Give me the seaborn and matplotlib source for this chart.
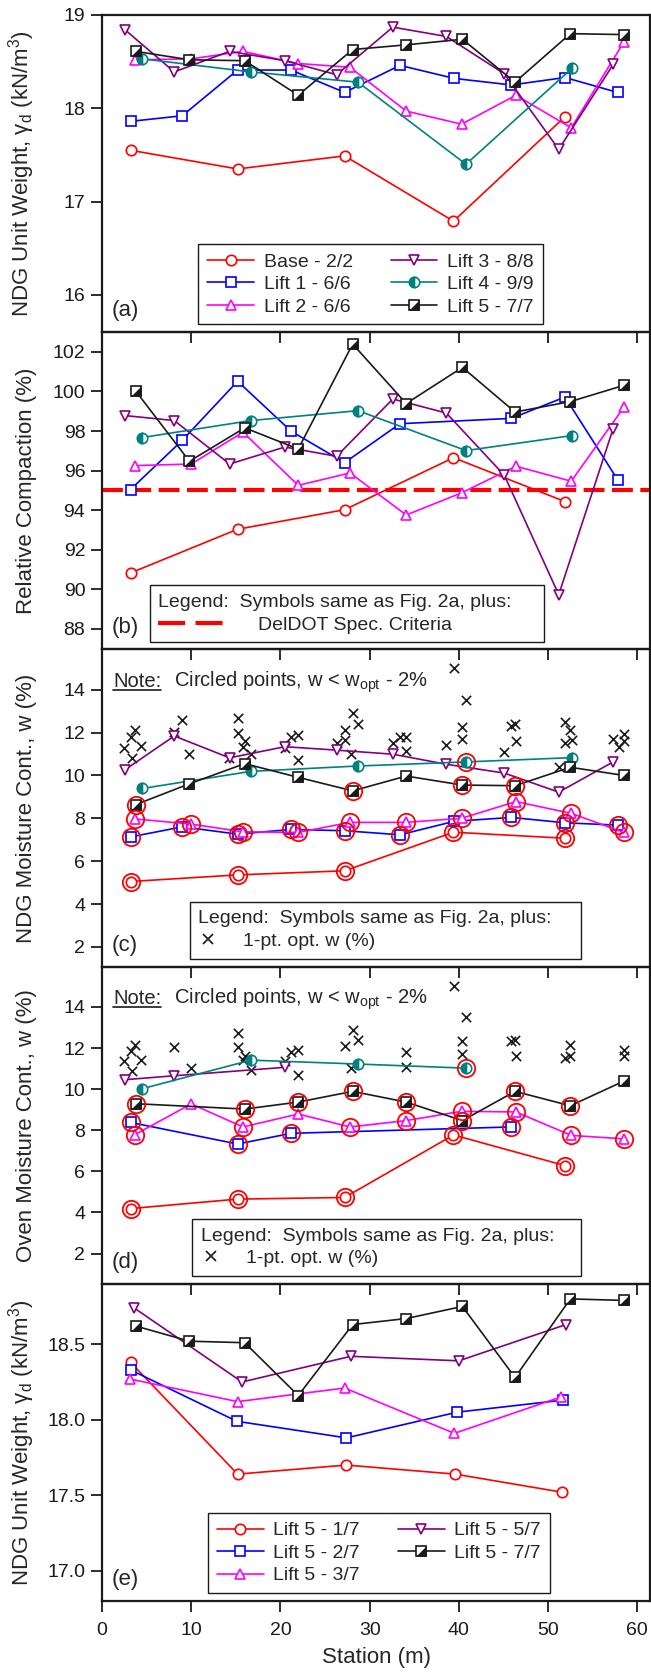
import numpy as np
import matplotlib
matplotlib.use("Agg")
import matplotlib.pyplot as plt
from matplotlib.lines import Line2D
import seaborn as sns

sns.set_theme(style="ticks")
plt.rcParams['font.family'] = ['Liberation Sans', 'DejaVu Sans']
plt.rcParams['mathtext.fontset'] = 'custom'
plt.rcParams['mathtext.rm'] = 'Liberation Sans'
plt.rcParams['mathtext.it'] = 'Liberation Sans:italic'

# --- stations (m) of each lift ---
st_base = [3.2, 15.2, 27.2, 39.4, 51.9]
st_l1 = [3.2, 9.0, 15.2, 21.2, 27.2, 33.4, 39.5, 45.9, 51.9, 57.8]
st_l2 = [3.7, 10.0, 15.8, 22.0, 27.8, 34.1, 40.3, 46.4, 52.6, 58.5]
st_l3 = [2.6, 8.1, 14.3, 20.5, 26.3, 32.6, 38.6, 45.1, 51.2, 57.3]
st_l4 = [4.5, 16.7, 28.7, 40.8, 52.7]
st_l5 = [3.8, 9.8, 16.0, 22.0, 28.1, 34.1, 40.4, 46.3, 52.5, 58.5]

# (a) NDG unit weight (kN/m3)
a_base = [17.55, 17.35, 17.49, 16.79, 17.91]
a_l1 = [17.86, 17.92, 18.41, 18.41, 18.17, 18.46, 18.32, 18.25, 18.33, 18.17]
a_l2 = [18.52, 18.53, 18.61, 18.48, 18.44, 17.97, 17.83, 18.14, 17.79, 18.71]
a_l3 = [18.84, 18.39, 18.61, 18.51, 18.36, 18.87, 18.77, 18.37, 17.56, 18.47]
a_l4 = [18.53, 18.39, 18.28, 17.40, 18.43]
a_l5 = [18.61, 18.52, 18.51, 18.14, 18.63, 18.68, 18.74, 18.28, 18.80, 18.79]

# (b) relative compaction (%)
b_base = [90.82, 93.03, 94.02, 96.65, 94.43]
b_l1 = [95.04, 97.53, 100.52, 97.99, 96.40, 98.37, np.nan, 98.64, 99.72, 95.54]
b_l2 = [96.25, 96.33, 97.94, 95.25, 95.88, 93.75, 94.87, 96.22, 95.46, 99.20]
b_l3 = [98.78, 98.53, 96.33, 97.19, 96.72, 99.62, 98.91, 95.76, 89.72, 98.12]
b_l4 = [97.67, 98.53, 99.03, 97.01, 97.77]
b_l5 = [100.01, 96.47, 98.16, 97.09, 102.40, 99.39, 101.22, 98.96, 99.49, 100.31]
spec_rc = 95

# (c) NDG moisture content (%), with indices of circled points
c_base = [5.05, 5.36, 5.55, 7.35, 7.07]
c_l1 = [7.13, 7.60, 7.26, 7.48, 7.42, 7.23, 7.86, 8.04, 7.79, 7.68]
c_l2 = [7.97, 7.73, 7.37, 7.34, 7.81, 7.81, 8.00, 8.78, 8.23, 7.34]
c_l3 = [10.27, 11.84, 10.82, 11.34, 11.18, 10.99, 10.52, 10.11, 9.22, 10.63]
c_l4 = [9.39, 10.19, 10.44, 10.63, 10.83]
c_l5 = [8.64, 9.61, 10.55, 9.91, 9.28, 9.97, 9.55, 9.52, 10.38, 10.00]
c_circ_base = [0, 1, 2, 3, 4]
c_circ_l1 = [0, 1, 2, 3, 4, 5, 7, 8, 9]
c_circ_l2 = [0, 1, 2, 3, 4, 5, 6, 7, 8, 9]
c_circ_l4 = [3]
c_circ_l5 = [0, 4, 6, 7]
c_opt_st = [2.5, 3.3, 3.7, 3.4, 4.4, 8.1, 9.0, 9.8, 14.2, 15.2, 15.2, 16.0, 15.8,
            16.7, 20.5, 21.2, 22.0, 22.0, 26.3, 27.2, 28.1, 28.7, 27.2, 27.9,
            32.6, 33.4, 34.1, 34.1, 38.6, 39.5, 40.3, 40.3, 40.8, 45.1, 45.9,
            46.3, 46.4, 51.2, 51.9, 51.9, 52.5, 52.7, 57.3, 57.9, 58.5, 58.5]
c_opt_w = [11.30, 11.81, 12.12, 10.83, 11.37, 12.03, 12.59, 11.02, 10.79, 12.67,
           12.00, 11.60, 11.34, 11.00, 11.30, 11.81, 11.88, 10.71, 11.49, 12.12,
           12.93, 12.40, 11.65, 11.00, 11.49, 11.81, 11.81, 11.13, 11.41, 15.02,
           12.28, 11.68, 13.50, 11.10, 12.32, 12.40, 11.60, 10.39, 12.51, 11.49,
           12.12, 11.65, 11.68, 11.34, 11.92, 11.60]

# (d) oven moisture content (%)
d_base = [4.19, 4.65, 4.73, 7.77, 6.28]
d_l1 = [8.38, np.nan, 7.33, 7.85, np.nan, np.nan, np.nan, 8.16, np.nan, np.nan]
d_l2 = [7.79, 9.28, 8.16, 8.79, 8.16, 8.47, 8.92, 8.89, 7.75, 7.58]
d_l3 = [10.46, 10.65, np.nan, 11.06, np.nan, np.nan, np.nan, np.nan, np.nan, np.nan]
d_l4 = [10.02, 11.41, 11.22, 11.02, np.nan]
d_l5 = [9.29, np.nan, 9.03, 9.37, 9.89, 9.37, 8.47, 9.89, 9.19, 10.39]
d_circ_base = [0, 1, 2, 3, 4]
d_circ_l1 = [0, 2, 3, 7]
d_circ_l2 = [0, 2, 4, 5, 6, 7, 8, 9]
d_circ_l4 = [3]
d_circ_l5 = [0, 2, 3, 4, 5, 6, 7, 8]
d_opt_st = [2.5, 3.3, 3.7, 3.4, 4.4, 8.1, 10.0, 15.2, 15.2, 16.0, 15.8, 16.7,
            20.5, 21.2, 22.0, 22.0, 27.2, 28.1, 28.7, 27.9, 34.1, 34.1, 39.5,
            40.3, 40.3, 40.8, 45.9, 46.3, 46.4, 51.9, 52.5, 52.5, 58.5, 58.5]
d_opt_w = [11.35, 11.86, 12.16, 10.86, 11.43, 12.03, 11.02, 12.72, 12.03, 11.59,
           11.43, 10.94, 11.35, 11.83, 11.91, 10.70, 12.12, 12.88, 12.40, 11.02,
           11.83, 11.10, 15.04, 12.32, 11.72, 13.53, 12.32, 12.40, 11.59, 11.51,
           12.16, 11.59, 11.91, 11.59]

# (e) NDG unit weight during lift 5 passes
e_st1 = [3.2, 15.2, 27.4, 39.6, 51.6]
e_st2 = [3.2, 15.1, 27.4, 39.8, 51.7]
e_st3 = [3.1, 15.2, 27.2, 39.5, 51.4]
e_st5 = [3.6, 15.7, 27.9, 40.0, 52.0]
e_p1 = [18.38, 17.64, 17.70, 17.64, 17.52]
e_p2 = [18.33, 17.99, 17.88, 18.05, 18.13]
e_p3 = [18.27, 18.12, 18.21, 17.91, 18.15]
e_p5 = [18.74, 18.25, 18.42, 18.39, 18.63]
e_p7 = [18.62, 18.52, 18.51, 18.16, 18.63, 18.67, 18.75, 18.28, 18.80, 18.79]

labels_a = ['Base - 2/2', 'Lift 1 - 6/6', 'Lift 2 - 6/6',
            'Lift 3 - 8/8', 'Lift 4 - 9/9', 'Lift 5 - 7/7']
labels_e = ['Lift 5 - 1/7', 'Lift 5 - 2/7', 'Lift 5 - 3/7',
            'Lift 5 - 5/7', 'Lift 5 - 7/7']

RED, BLUE, MAG, PUR, TEAL = '#ff0000', '#0000ff', '#ff00ff', '#800080', '#008080'
STYLES = {
    'base': dict(color=RED, marker='o', ms=7.5),
    'l1': dict(color=BLUE, marker='s', ms=6.5),
    'l2': dict(color=MAG, marker='^', ms=7.5),
    'l3': dict(color=PUR, marker='v', ms=7.5),
    'l4': dict(color=TEAL, marker='o', ms=7.5),
    'l5': dict(color='k', marker='s', ms=7),
}
HALF_SQ = [(-1, -1), (1, -1), (1, 1)]
FS = 14


def draw(ax, st, vals, key, circled=None):
    s = STYLES[key]
    x = np.asarray(st, float)
    y = np.asarray(vals, float)
    extra = dict(mfc='white')
    if key == 'l4':
        extra = dict(mfc=TEAL, fillstyle='left', markerfacecoloralt='white')
    sns.lineplot(x=x, y=y, ax=ax, estimator=None, sort=False, legend=False,
                 color=s['color'], lw=1.2, marker=s['marker'], ms=s['ms'],
                 mec=s['color'], mew=1.2, **extra)
    handle = ax.lines[-1]
    ok = ~np.isnan(y)
    if key == 'l5':
        tri, = ax.plot(x[ok], y[ok], ls='none', marker=HALF_SQ, ms=s['ms'],
                       mfc='k', mec='k', mew=0.4)
        handle = (handle, tri)
    if circled:
        idx = np.asarray(circled)
        ax.plot(x[idx], y[idx], ls='none', marker='o', ms=12.5, mfc='none',
                mec=RED, mew=1.3, zorder=5)
    return handle


def box_legend(ax, handles, labels, x0, width, y0=0.025, **kw):
    opts = dict(loc='lower left', bbox_to_anchor=(x0, y0, width, 0.1),
                mode='expand', borderaxespad=0, fancybox=False, framealpha=1,
                edgecolor='k', fontsize=FS, borderpad=0.45, labelspacing=0.25,
                handlelength=2.4, handletextpad=0.5, columnspacing=0.8)
    opts.update(kw)
    leg = ax.legend(handles, labels, **opts)
    leg.get_frame().set_linewidth(1.0)
    return leg


fig = plt.figure(figsize=(6.51, 16.76), dpi=100)
gs = fig.add_gridspec(5, 1, left=102 / 651, right=650 / 651,
                      bottom=75 / 1676, top=1 - 15 / 1676, hspace=0)
axes = [fig.add_subplot(gs[i]) for i in range(5)]

for ax in axes:
    ax.set_facecolor('none')
    for sp in ax.spines.values():
        sp.set_linewidth(1.6)
        sp.set_color('k')
    ax.tick_params(direction='out', length=8, width=1.3, color='k',
                   labelsize=FS, labelcolor='k')
    ax.tick_params(axis='y', pad=4)
    ax.tick_params(axis='x', pad=7)
    ax.set_xlim(0, 61.43)
    ax.set_xticks(range(0, 61, 10))
    ax.grid(False)

# ---- (a)
ax = axes[0]
hs = [draw(ax, st_base, a_base, 'base'), draw(ax, st_l1, a_l1, 'l1'),
      draw(ax, st_l2, a_l2, 'l2'), draw(ax, st_l3, a_l3, 'l3'),
      draw(ax, st_l4, a_l4, 'l4'), draw(ax, st_l5, a_l5, 'l5')]
ax.set_ylim(15.6, 19.0)
ax.set_yticks([16, 17, 18, 19])
box_legend(ax, hs, labels_a, 0.176, 0.628, ncol=2)

# ---- (b)
ax = axes[1]
draw(ax, st_base, b_base, 'base'); draw(ax, st_l1, b_l1, 'l1')
draw(ax, st_l2, b_l2, 'l2'); draw(ax, st_l3, b_l3, 'l3')
draw(ax, st_l4, b_l4, 'l4'); draw(ax, st_l5, b_l5, 'l5')
ax.axhline(spec_rc, color=RED, lw=3, dashes=(5, 1.8), zorder=1)
ax.set_ylim(86.95, 103.0)
ax.set_yticks(range(88, 103, 2))
spec_h = Line2D([], [], color=RED, lw=3, dashes=(6.5, 2.5))
box_legend(ax, [spec_h], ['DelDOT Spec. Criteria'], 0.087, 0.719, y0=0.022,
           title='Legend:  Symbols same as Fig. 2a, plus:', title_fontsize=FS,
           alignment='left', handlelength=3.5, handletextpad=1.6)

# ---- (c) and (d)
opt_h = Line2D([], [], ls='none', marker='x', color='k', ms=7, mew=1.2)
panels = [
    (axes[2], [c_base, c_l1, c_l2, c_l3, c_l4, c_l5],
     [c_circ_base, c_circ_l1, c_circ_l2, None, c_circ_l4, c_circ_l5],
     c_opt_st, c_opt_w, (1.08, 15.88), 0.16),
    (axes[3], [d_base, d_l1, d_l2, d_l3, d_l4, d_l5],
     [d_circ_base, d_circ_l1, d_circ_l2, None, d_circ_l4, d_circ_l5],
     d_opt_st, d_opt_w, (0.53, 15.96), 0.165),
]
stations = [st_base, st_l1, st_l2, st_l3, st_l4, st_l5]
keys = ['base', 'l1', 'l2', 'l3', 'l4', 'l5']
for ax, vals, circ, opt_st, opt_w, ylim, lx in panels:
    sns.scatterplot(x=opt_st, y=opt_w, ax=ax, marker='x', color='k', s=45,
                    linewidth=1.2, legend=False, zorder=1)
    for st, v, k, c in zip(stations, vals, keys, circ):
        draw(ax, st, v, k, c)
    ax.set_ylim(*ylim)
    ax.set_yticks(range(2, 15, 2))
    box_legend(ax, [opt_h], ['1-pt. opt. w (%)'], lx, 0.874 - lx,
               title='Legend:  Symbols same as Fig. 2a, plus:', title_fontsize=FS,
               alignment='left', handlelength=1.0, handletextpad=1.3)

# ---- (e)
ax = axes[4]
he = [draw(ax, e_st1, e_p1, 'base'), draw(ax, e_st2, e_p2, 'l1'),
      draw(ax, e_st3, e_p3, 'l2'), draw(ax, e_st5, e_p5, 'l3'),
      draw(ax, st_l5, e_p7, 'l5')]
ax.set_ylim(16.8, 18.9)
ax.set_yticks([17.0, 17.5, 18.0, 18.5])
ax.yaxis.set_major_formatter(matplotlib.ticker.FormatStrFormatter('%.1f'))
box_legend(ax, he, labels_e, 0.194, 0.623, ncol=2)
ax.set_xlabel('Station (m)', fontsize=16, labelpad=6)

ylabels = ['NDG Unit Weight, γ$_{\\rm d}$ (kN/m$^3$)', 'Relative Compaction (%)',
           'NDG Moisture Cont., w (%)', 'Oven Moisture Cont., w (%)',
           'NDG Unit Weight, γ$_{\\rm d}$ (kN/m$^3$)']
for i, (ax, lab) in enumerate(zip(axes, ylabels)):
    ax.set_ylabel(lab, fontsize=16)
    ax.yaxis.set_label_coords(-0.118, 0.5)
    ax.text(0.018, 0.068, '(%s)' % 'abcde'[i], transform=ax.transAxes,
            fontsize=16, ha='left', va='center')
    if i < 4:
        ax.tick_params(axis='x', labelbottom=False)
        ax.set_xlabel('')

# "Note:" with underline, followed by the remaining text
fig.canvas.draw()
renderer = fig.canvas.get_renderer()
for ax in axes[2:4]:
    t1 = ax.text(0.02, 0.882, 'Note:', transform=ax.transAxes, fontsize=14.5,
                 ha='left', va='baseline')
    bb = t1.get_window_extent(renderer)
    base = ax.transAxes.transform((0.02, 0.882))
    x2 = ax.transAxes.inverted().transform((bb.x1 + 13, base[1]))[0]
    ax.text(x2, 0.882, 'Circled points, w < w$_{\\rm opt}$ - 2%',
            transform=ax.transAxes, fontsize=14.5, ha='left', va='baseline')
    uy = base[1] - 3
    p0 = fig.transFigure.inverted().transform((bb.x0, uy))
    p1 = fig.transFigure.inverted().transform((bb.x1, uy))
    fig.add_artist(Line2D([p0[0], p1[0]], [p0[1], p1[1]], color='k', lw=1.2))

fig.savefig('out.png', dpi=100)
